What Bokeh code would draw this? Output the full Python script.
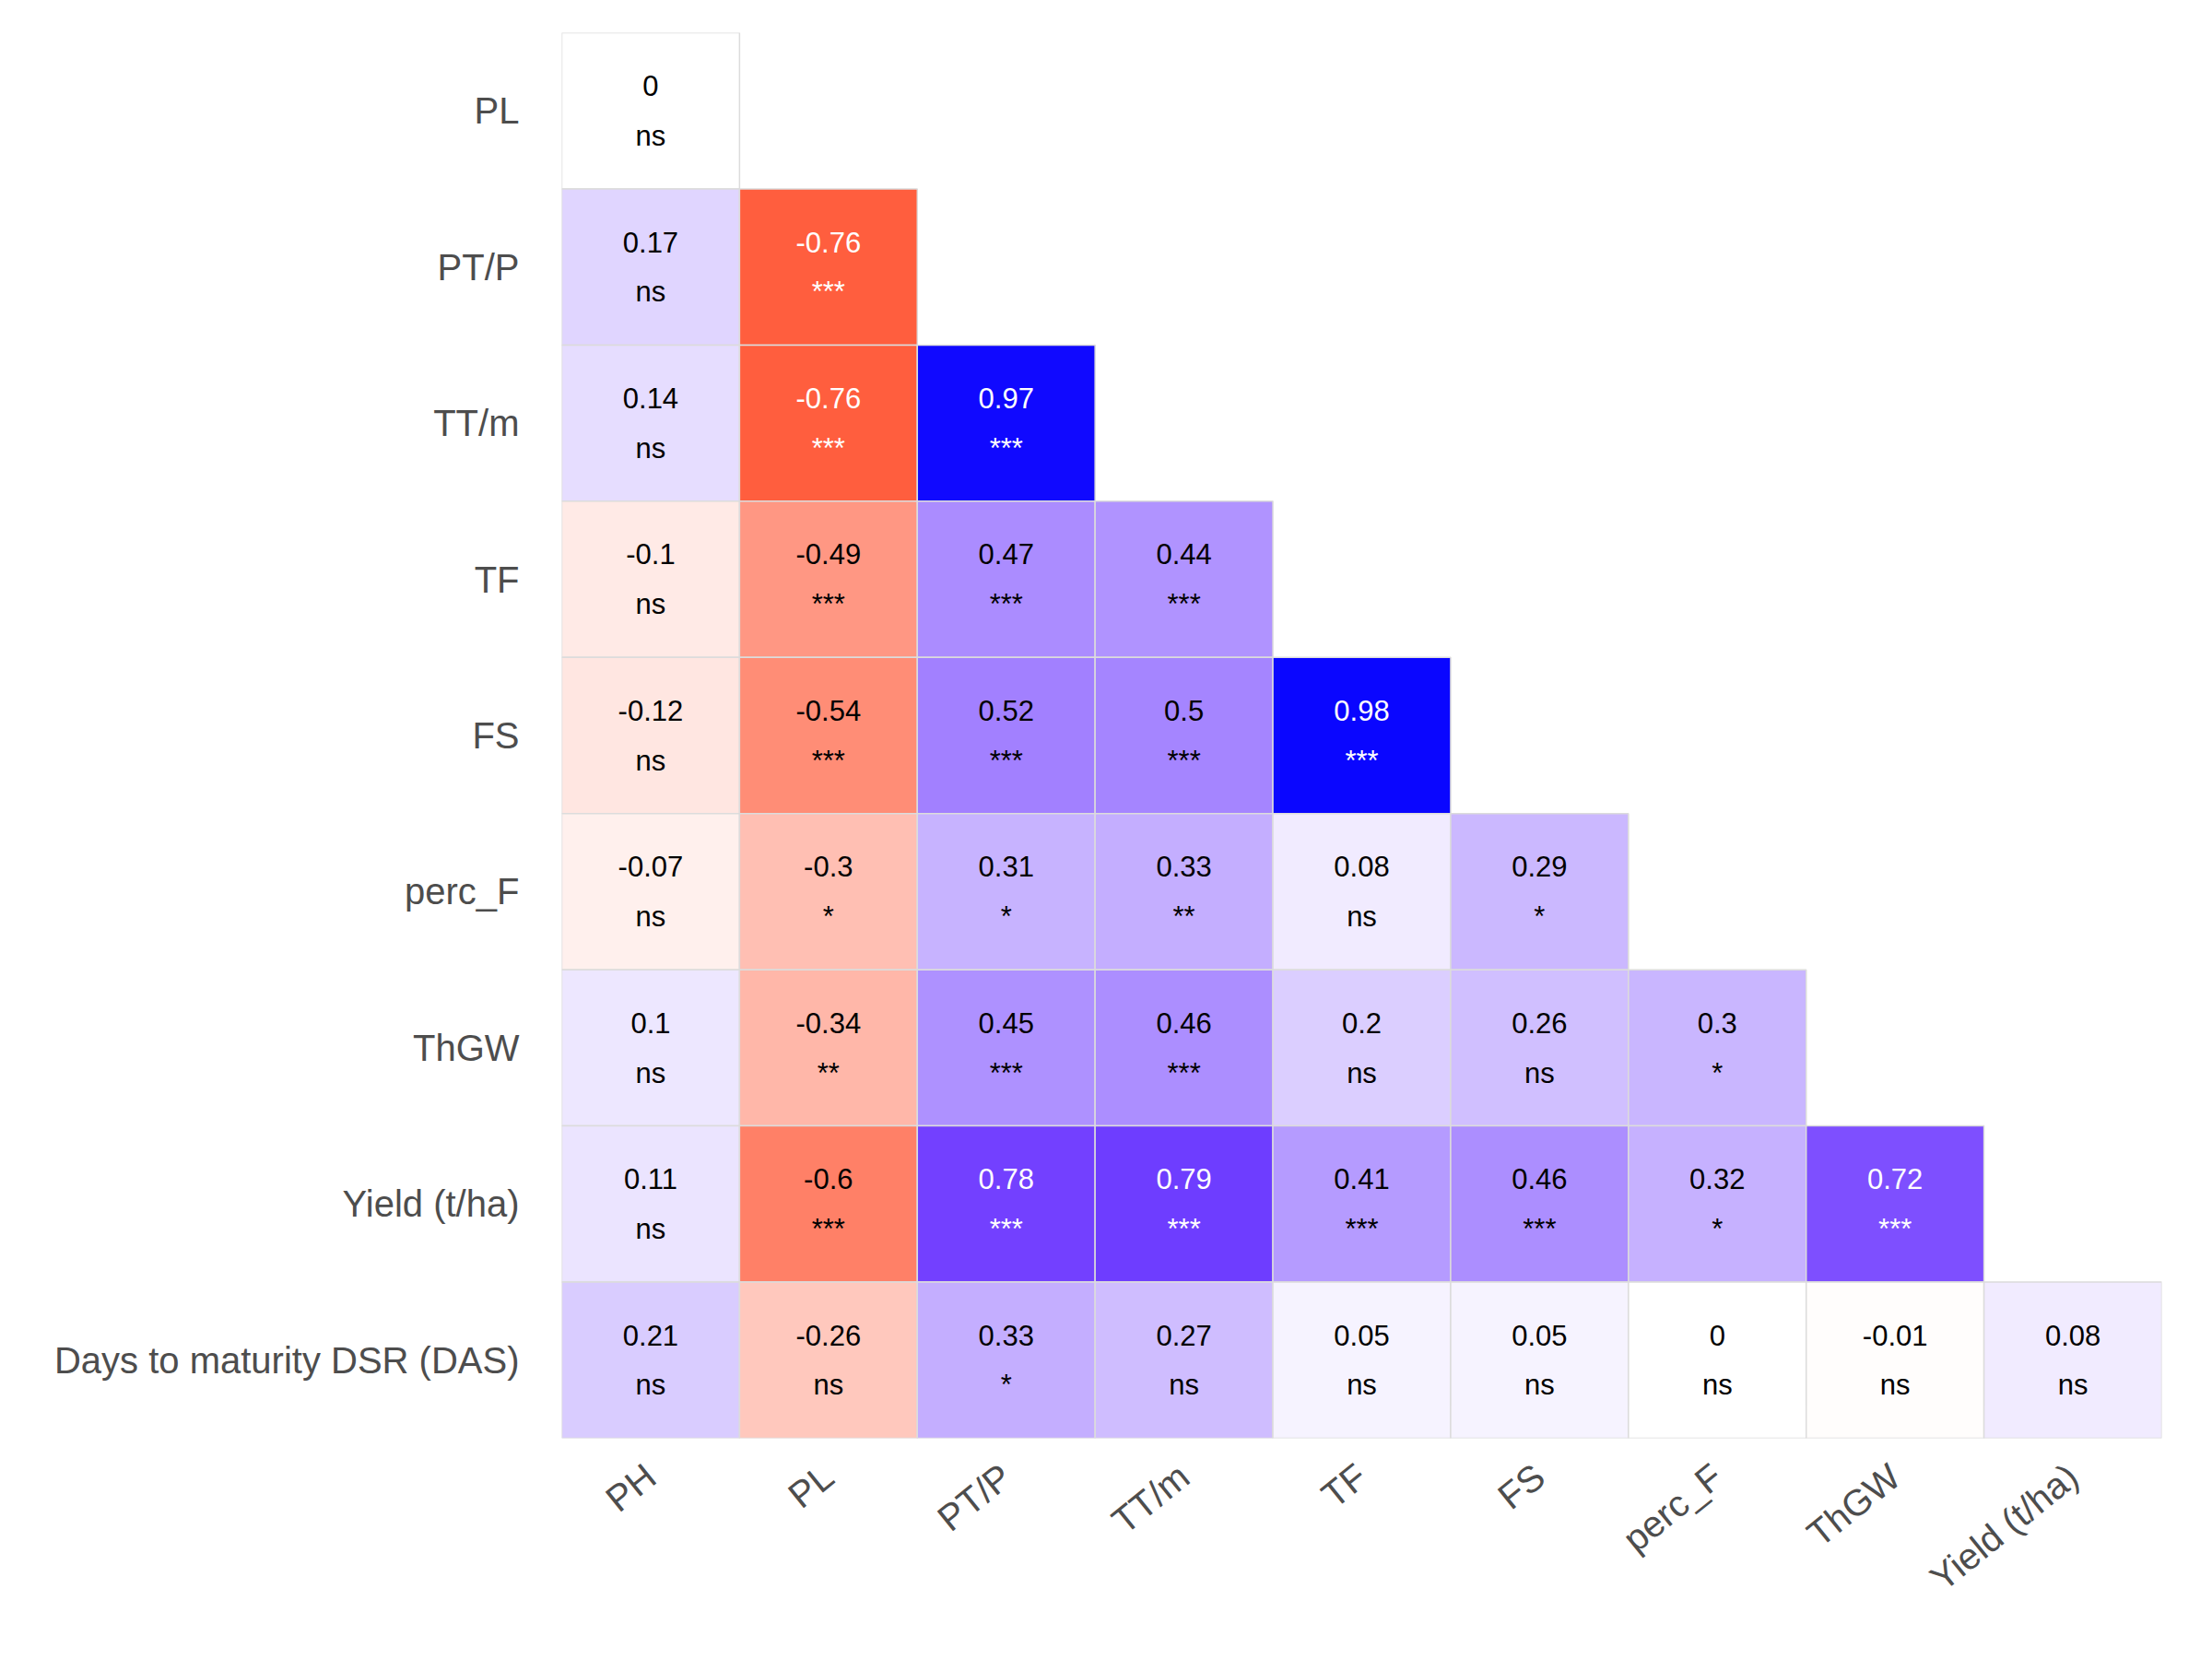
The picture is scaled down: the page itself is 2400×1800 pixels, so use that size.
from bokeh.core.properties import value
from bokeh.embed import file_html
from bokeh.models import ColumnDataSource, FixedTicker
from bokeh.plotting import figure
from bokeh.resources import INLINE

x_labels = ["PH", "PL", "PT/P", "TT/m", "TF", "FS", "perc_F", "ThGW", "Yield (t/ha)"]
y_labels = ["PL", "PT/P", "TT/m", "TF", "FS", "perc_F", "ThGW", "Yield (t/ha)",
            "Days to maturity DSR (DAS)"]

r_pl = [0]
r_ptp = [0.17, -0.76]
r_ttm = [0.14, -0.76, 0.97]
r_tf = [-0.1, -0.49, 0.47, 0.44]
r_fs = [-0.12, -0.54, 0.52, 0.5, 0.98]
r_percf = [-0.07, -0.3, 0.31, 0.33, 0.08, 0.29]
r_thgw = [0.1, -0.34, 0.45, 0.46, 0.2, 0.26, 0.3]
r_yield = [0.11, -0.6, 0.78, 0.79, 0.41, 0.46, 0.32, 0.72]
r_days = [0.21, -0.26, 0.33, 0.27, 0.05, 0.05, 0, -0.01, 0.08]

s_pl = ["ns"]
s_ptp = ["ns", "***"]
s_ttm = ["ns", "***", "***"]
s_tf = ["ns", "***", "***", "***"]
s_fs = ["ns", "***", "***", "***", "***"]
s_percf = ["ns", "*", "*", "**", "ns", "*"]
s_thgw = ["ns", "**", "***", "***", "ns", "ns", "*"]
s_yield = ["ns", "***", "***", "***", "***", "***", "*", "***"]
s_days = ["ns", "ns", "*", "ns", "ns", "ns", "ns", "ns", "ns"]

rows_r = [r_pl, r_ptp, r_ttm, r_tf, r_fs, r_percf, r_thgw, r_yield, r_days]
rows_s = [s_pl, s_ptp, s_ttm, s_tf, s_fs, s_percf, s_thgw, s_yield, s_days]


def lerp(a, b, t):
    return tuple(round(a[k] + (b[k] - a[k]) * t) for k in range(3))


def colour(r):
    white = (255, 255, 255)
    if r >= 0:
        mid = (115, 64, 255)
        c = lerp(white, mid, r / 0.78) if r <= 0.78 else lerp(mid, (0, 0, 255), (r - 0.78) / 0.22)
    else:
        c = lerp(white, (255, 94, 62), min(-r / 0.76, 1.0))
    return "#%02x%02x%02x" % c


xs, ys, cols, vals, sigs, tcol = [], [], [], [], [], []
n = len(y_labels)
for i, (rr, ss) in enumerate(zip(rows_r, rows_s)):
    for j, (r, s) in enumerate(zip(rr, ss)):
        xs.append(j + 0.5)
        ys.append(n - i - 0.5)
        cols.append(colour(r))
        vals.append("%g" % r)
        sigs.append(s)
        tcol.append("white" if abs(r) > 0.7 else "black")

src = ColumnDataSource(dict(x=xs, y=ys, c=cols, v=vals, s=sigs, tc=tcol,
                            yv=[y + 0.16 for y in ys], ys_=[y - 0.16 for y in ys]))

p = figure(width=2380, height=1780, x_range=(0, 9), y_range=(0, 9),
           output_backend="svg", toolbar_location=None,
           min_border_left=609, min_border_right=35, min_border_top=35,
           min_border_bottom=220)
p.outline_line_color = None
p.grid.visible = False
p.background_fill_color = "white"

p.rect("x", "y", 1, 1, source=src, fill_color="c", line_color="#dcdcdc", line_width=1.5)
p.text("x", "yv", text="v", source=src, text_color="tc", text_align="center",
       text_baseline="middle", text_font=value("Liberation Sans"), text_font_size="31px")
p.text("x", "ys_", text="s", source=src, text_color="tc", text_align="center",
       text_baseline="middle", text_font=value("Liberation Sans"), text_font_size="31px")

p.xaxis.ticker = FixedTicker(ticks=[k + 0.5 for k in range(9)])
p.xaxis.major_label_overrides = {k + 0.5: lab for k, lab in enumerate(x_labels)}
p.xaxis.major_label_orientation = 0.68
p.yaxis.ticker = FixedTicker(ticks=[n - k - 0.5 for k in range(n)])
p.yaxis.major_label_overrides = {n - k - 0.5: lab for k, lab in enumerate(y_labels)}
for ax in (p.xaxis, p.yaxis):
    ax.axis_line_color = None
    ax.major_tick_line_color = None
    ax.minor_tick_line_color = None
    ax.major_label_text_font = "Liberation Sans"
    ax.major_label_text_font_size = "40px"
    ax.major_label_text_color = "#4d4d4d"
p.yaxis.major_label_standoff = 40
p.xaxis.major_label_standoff = 30

open("out.html", "w").write(file_html(p, INLINE))
